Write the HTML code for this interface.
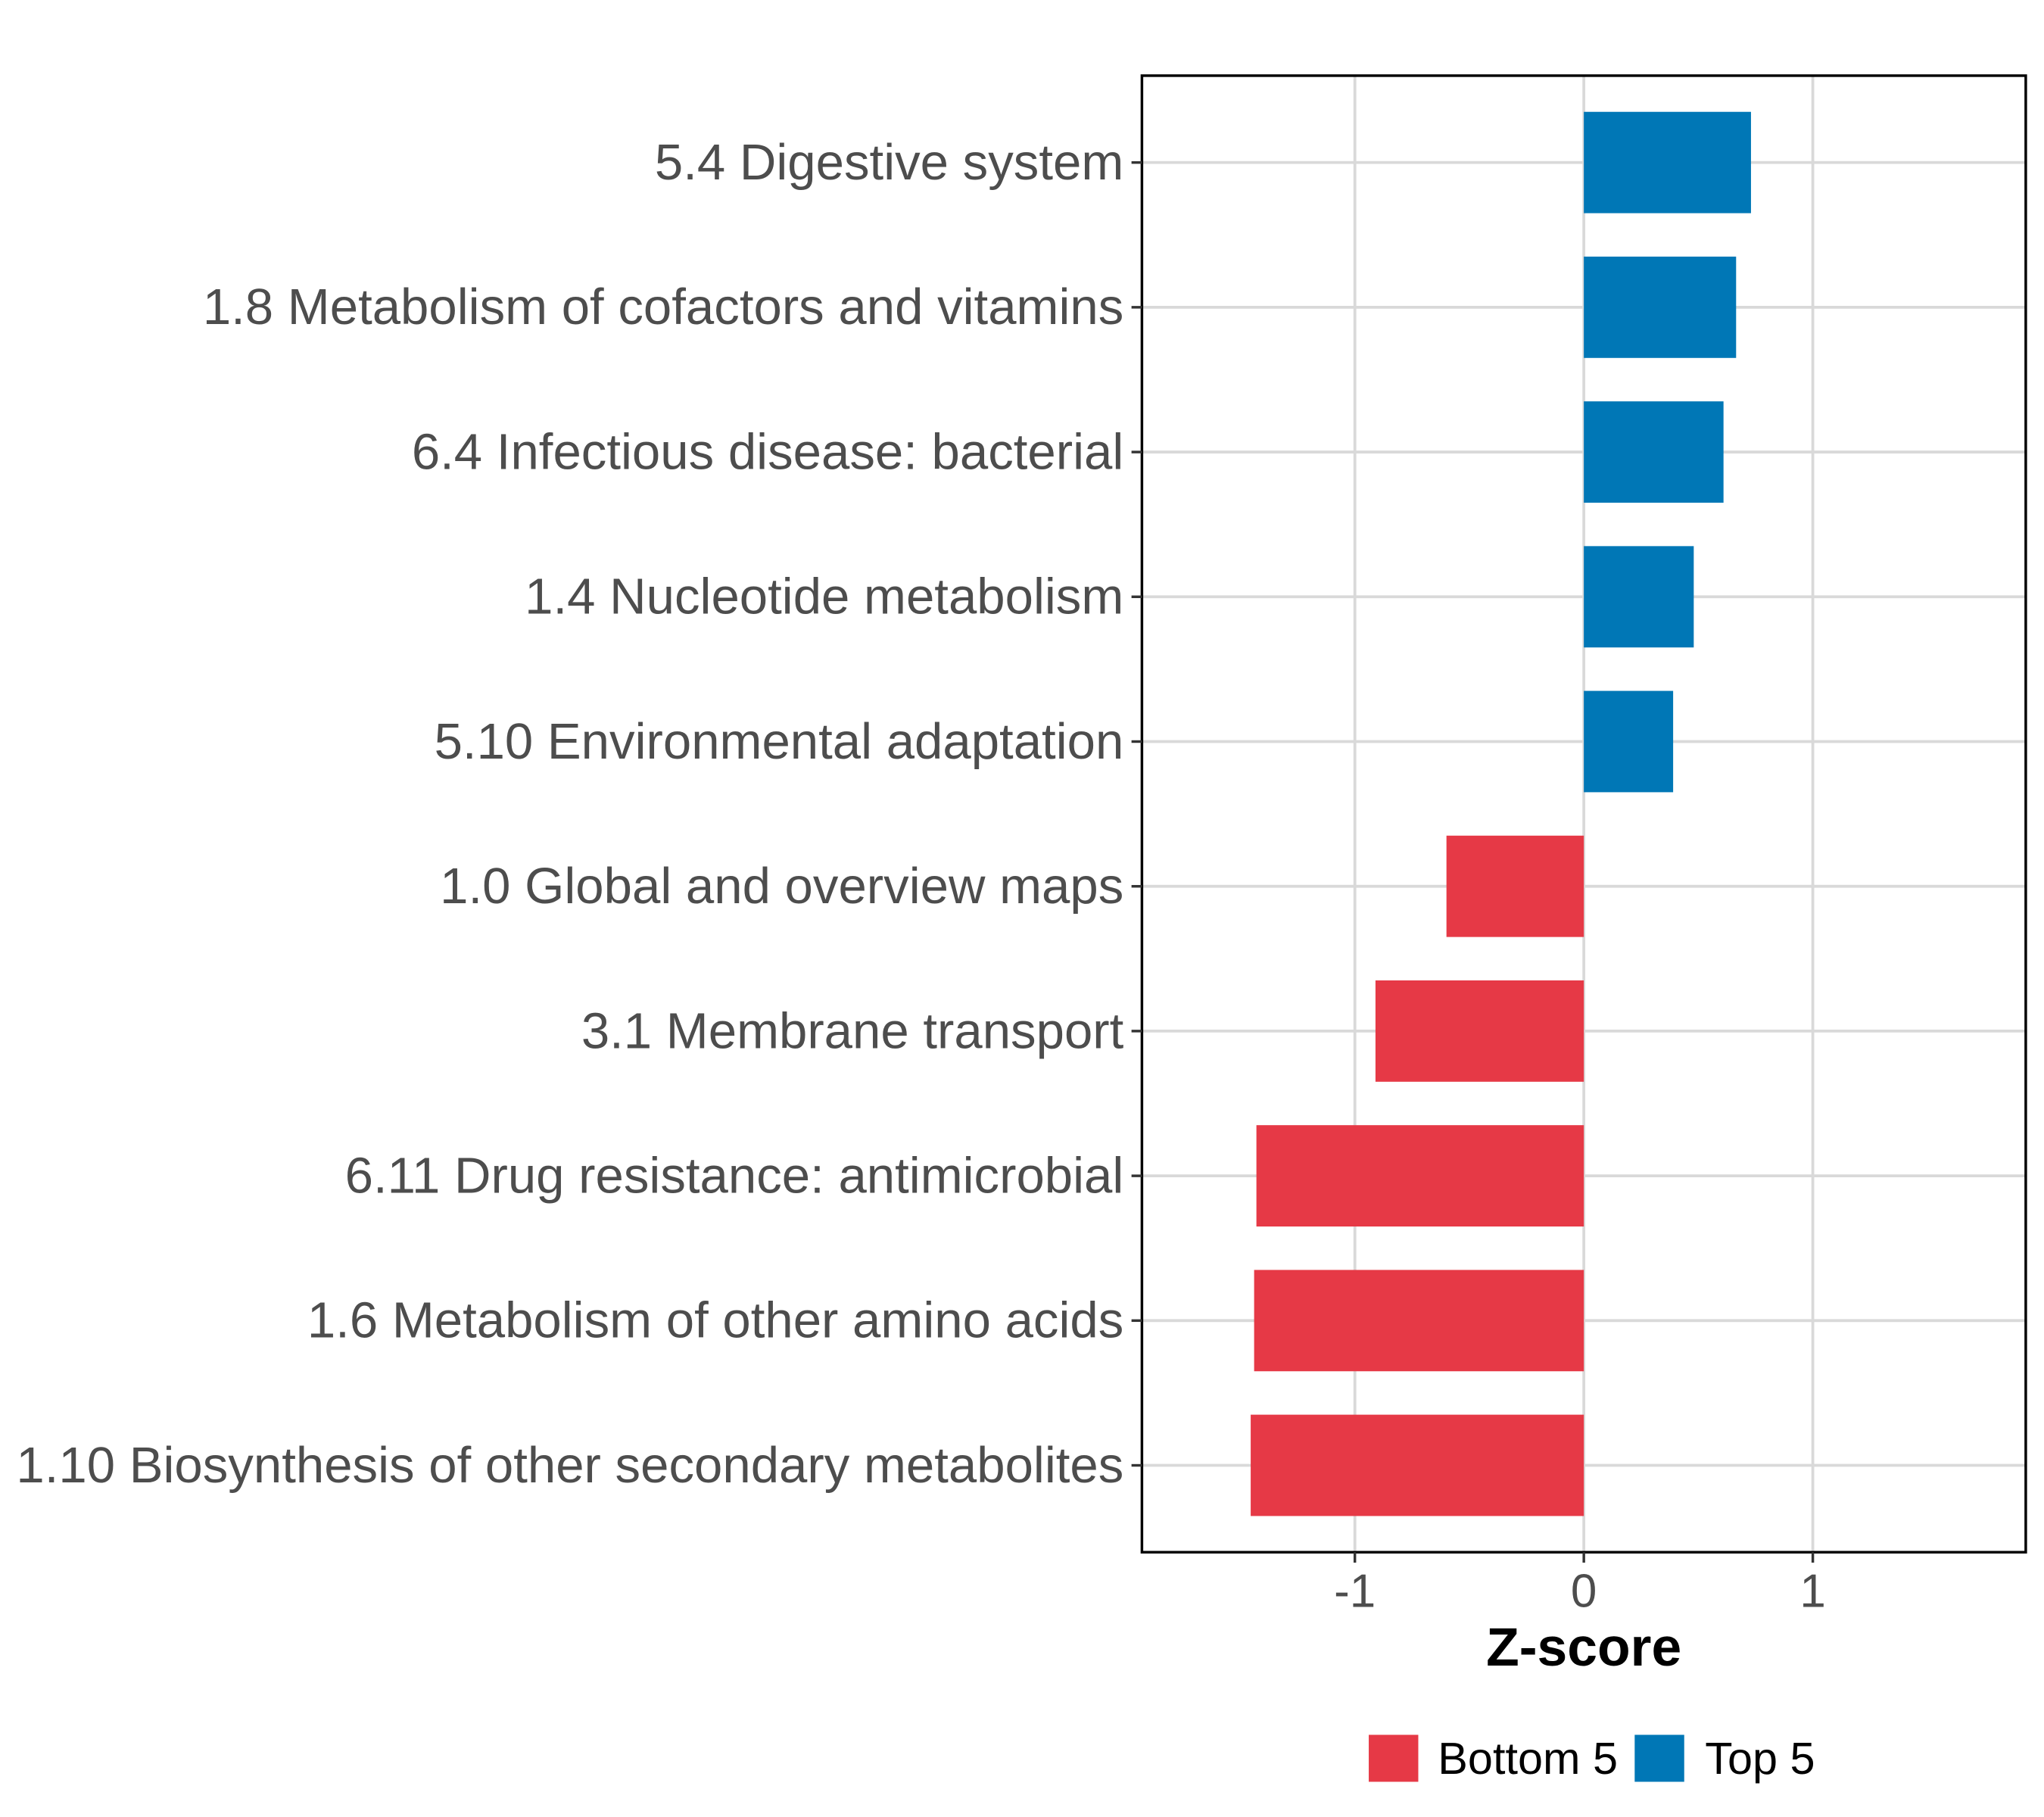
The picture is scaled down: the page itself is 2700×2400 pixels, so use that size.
<!DOCTYPE html>
<html><head><meta charset="utf-8">
<style>
html,body{margin:0;padding:0;background:#fff;}
svg{display:block;}
text{font-family:"Liberation Sans",Arial,sans-serif;}
</style></head>
<body>
<svg id="chart" width="2700" height="2400" viewBox="0 0 1568 1393" preserveAspectRatio="none" xmlns="http://www.w3.org/2000/svg">
<rect x="0" y="0" width="1568" height="1393" fill="#fff"/>
<g id="grid"></g>
<g id="bars"></g>
<rect x="876" y="58" width="678" height="1132" fill="none" stroke="#000" stroke-width="2"/>
<g id="yaxis"></g>
<g id="xaxis"></g>
<text x="1215" y="1277" text-anchor="middle" font-size="41.5" font-weight="bold" fill="#000">Z-score</text>
<g>
  <rect x="1050" y="1330" width="38" height="36" fill="#E63946"/>
  <text x="1103" y="1360" font-size="34.5" fill="#000">Bottom 5</text>
  <rect x="1254" y="1330" width="38" height="36" fill="#0077B6"/>
  <text x="1308" y="1360" font-size="34.5" fill="#000">Top 5</text>
</g>
</svg>
<script>
const categories = ["5.4 Digestive system","1.8 Metabolism of cofactors and vitamins","6.4 Infectious disease: bacterial","1.4 Nucleotide metabolism","5.10 Environmental adaptation","1.0 Global and overview maps","3.1 Membrane transport","6.11 Drug resistance: antimicrobial","1.6 Metabolism of other amino acids","1.10 Biosynthesis of other secondary metabolites"];
const values = [0.73,0.665,0.61,0.48,0.39,-0.60,-0.91,-1.43,-1.44,-1.455];
const groups = ["Top 5","Top 5","Top 5","Top 5","Top 5","Bottom 5","Bottom 5","Bottom 5","Bottom 5","Bottom 5"];
const xTicks = [-1,0,1];
const xTickLabels = ["-1","0","1"];

const NS="http://www.w3.org/2000/svg";
const PL=876,PR=1554,PT=58,PB=1190,XMIN=-1.93,XMAX=1.93;
function xs(v){return PL+(v-XMIN)/(XMAX-XMIN)*(PR-PL);}
const n=categories.length;
const step=(PB-PT)/(n-1+1.2);
function ys(i){return PT+step*0.6+step*i;}
const colors={"Top 5":"#0077B6","Bottom 5":"#E63946"};
function mk(tag,attrs,parent){const e=document.createElementNS(NS,tag);for(const k in attrs)e.setAttribute(k,attrs[k]);parent.appendChild(e);return e;}

const grid=document.getElementById('grid'),bars=document.getElementById('bars'),ya=document.getElementById('yaxis'),xa=document.getElementById('xaxis');
xTicks.forEach((t,i)=>{
  const l=mk('line',{x1:xs(t),x2:xs(t),y1:PT,y2:PB,stroke:'#d9d9d9','stroke-width':2.2},grid);
  
  
  const tk=mk('line',{x1:xs(t),x2:xs(t),y1:PB,y2:PB+8,stroke:'#333','stroke-width':2},xa);
  
  
  const tx=mk('text',{x:xs(t),y:1232,'text-anchor':'middle','font-size':36,fill:'#4d4d4d'},xa);
  tx.textContent=xTickLabels[i];
  
  
});
categories.forEach((c,i)=>{
  const y=ys(i);
  const g=mk('line',{x1:PL,x2:PR,y1:y,y2:y,stroke:'#d9d9d9','stroke-width':2.2},grid);
  
  
  const v=values[i];
  const x0=xs(Math.min(0,v)),x1=xs(Math.max(0,v));
  const b=mk('rect',{x:x0,y:y-step*0.35,width:x1-x0,height:step*0.7,fill:colors[groups[i]]},bars);
  
  
  const tk=mk('line',{x1:PL-8,x2:PL,y1:y,y2:y,stroke:'#333','stroke-width':2},ya);
  
  
  const tx=mk('text',{x:862,y:y+13,'text-anchor':'end','font-size':39,fill:'#4d4d4d'},ya);
  tx.textContent=c;
  
  
});
</script>
</body></html>
